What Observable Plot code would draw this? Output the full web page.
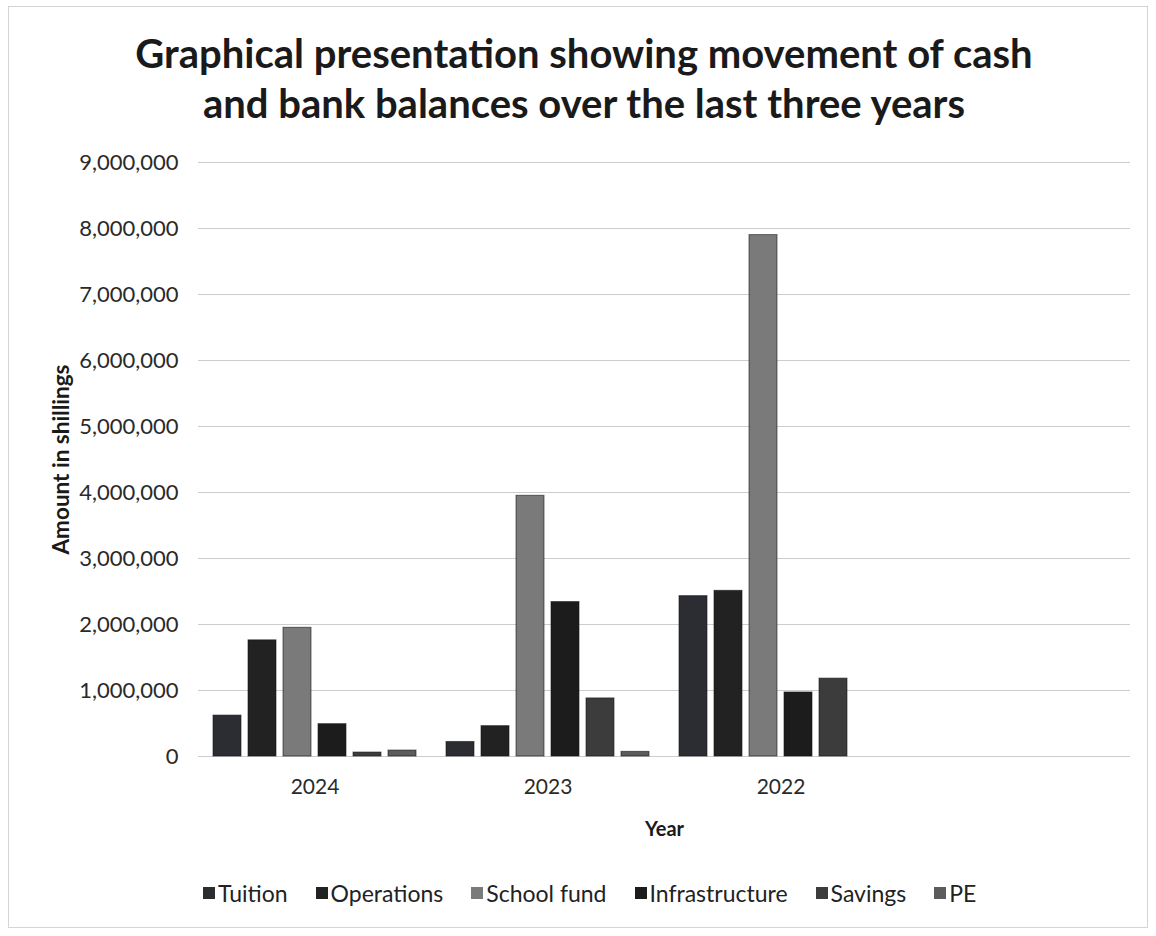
<!DOCTYPE html>
<html>
<head>
<meta charset="utf-8">
<script src="https://cdn.jsdelivr.net/npm/d3@7"></script>
<script src="https://cdn.jsdelivr.net/npm/@observablehq/plot@0.6"></script>
<style>
  html, body { margin: 0; padding: 0; background: #fff; }
  #page { position: relative; width: 1156px; height: 936px; overflow: hidden; font-family: Lato, "Open Sans", sans-serif; color: #1e1e1e; }
  #frame { position: absolute; left: 8px; top: 6px; width: 1140px; height: 922px; border: 1px solid #d4d4d4; box-sizing: border-box; }
  #title { position: absolute; left: 6px; top: 28px; width: 1156px; text-align: center; font-weight: 700; font-size: 40px; line-height: 50px; color: #1a1a1a; }
  #chart { position: absolute; left: 0; top: 140px; }
  #legend { position: absolute; left: 203px; top: 876px; }
  #legend .lg-swatches { font-family: Lato, sans-serif !important; font-size: 23px !important; color: #222 !important; }
  #legend .lg-swatch { margin-right: 28px !important; }
  #legend .lg-swatch > svg { margin-right: 3px !important; }
  #chart svg text { fill: #2a2a2a; }
  #chart g[aria-label="fx-axis tick label"] text { font-size: 21px; }
  #chart g[aria-label="fx-axis label"] text { font-weight: 700; fill: #1a1a1a; font-size: 20px; }
  #chart g[aria-label="y-axis label"] text { font-weight: 700; fill: #1a1a1a; font-size: 22.5px; }
</style>
</head>
<body>
<div id="page">
  <div id="frame"></div>
  <div id="title">Graphical presentation showing movement of cash<br>and bank balances over the last three years</div>
  <div id="chart"></div>
  <div id="legend"></div>
</div>
<script>
// ---- data ----
const years = ["2024", "2023", "2022"];
const yearCategories = ["2024", "2023", "2022", ""];   // Excel axis shows a 4th, empty category
const series = ["Tuition", "Operations", "School fund", "Infrastructure", "Savings", "PE"];
const tuition        = [620000, 220000, 2430000];
const operations     = [1760000, 460000, 2510000];
const schoolFund     = [1950000, 3950000, 7900000];
const infrastructure = [490000, 2340000, 970000];
const savings        = [60000, 880000, 1180000];
const pe             = [90000, 70000, null];
const yTicks = [0, 1000000, 2000000, 3000000, 4000000, 5000000, 6000000, 7000000, 8000000, 9000000];
const seriesColors = ["#2b2d33", "#222222", "#7a7a7a", "#1c1c1c", "#3c3c3c", "#5c5c5c"];

const seriesValues = [tuition, operations, schoolFund, infrastructure, savings, pe];
const data = [];
years.forEach((yr, i) => {
  series.forEach((s, j) => {
    const v = seriesValues[j][i];
    if (v != null) data.push({year: yr, series: s, value: v});
  });
});
// gridlines for every category (including the empty one), so they span the whole plot area
const gridData = yearCategories.flatMap(c => yTicks.map(t => ({year: c, tick: t})));

const plot = Plot.plot({
  width: 1156,
  height: 720,
  marginLeft: 197,
  marginRight: 26,
  marginTop: 22,
  marginBottom: 104,
  style: {fontFamily: "Lato, sans-serif", fontSize: "22px", background: "transparent", color: "#2a2a2a"},
  fx: {domain: yearCategories, padding: 0, axis: "bottom", label: "Year", labelAnchor: "center", labelOffset: 79, tickSize: 0, tickPadding: 23},
  x: {domain: series, axis: null, paddingInner: 0.2, paddingOuter: 0.385},
  y: {domain: [0, 9000000], ticks: yTicks, tickFormat: d3.format(","), tickSize: 0, tickPadding: 20, label: "Amount in shillings", labelArrow: "none", labelAnchor: "center", labelOffset: 145},
  color: {domain: series, range: seriesColors},
  marks: [
    Plot.ruleY(gridData, {fx: "year", y: "tick", stroke: "#cdcdcd", strokeWidth: 1}),
    Plot.barY(data, {fx: "year", x: "series", y: "value", fill: "series", stroke: "#151515", strokeWidth: 1, strokeOpacity: 0.6})
  ]
});
document.getElementById("chart").appendChild(plot);

const legend = Plot.legend({
  color: {domain: series, range: seriesColors},
  legend: "swatches",
  className: "lg",
  swatchSize: 12
});
document.getElementById("legend").appendChild(legend);
</script>
</body>
</html>
